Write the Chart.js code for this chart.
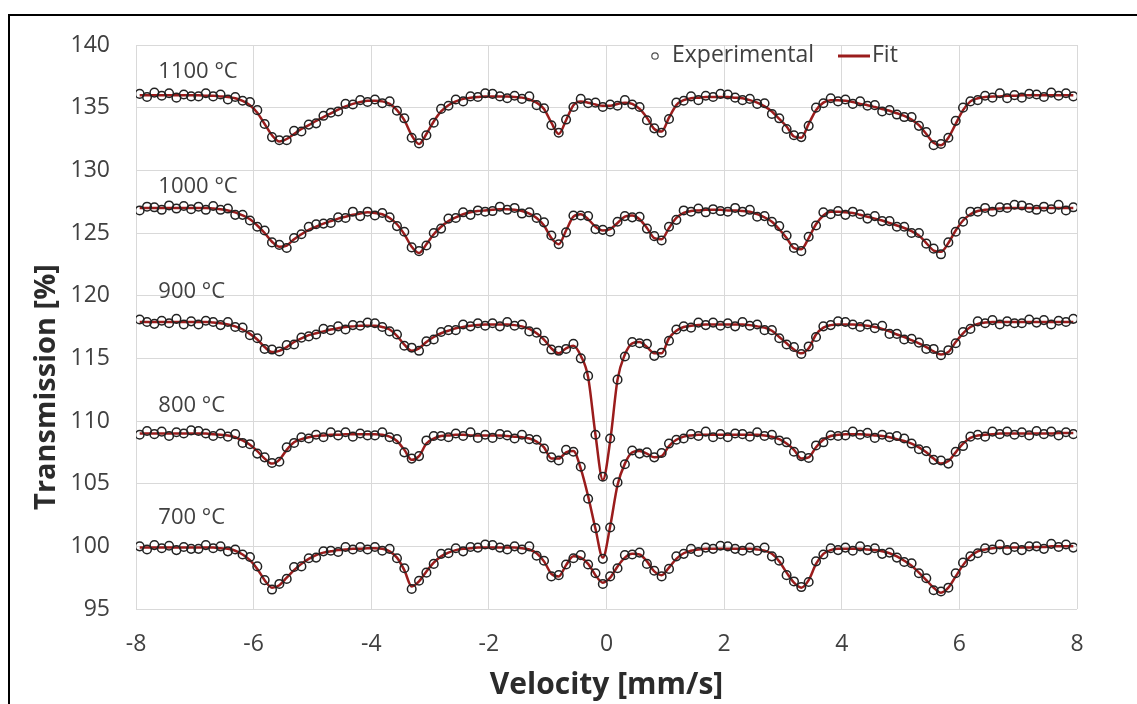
<!DOCTYPE html>
<html>
<head>
<meta charset="utf-8">
<script src="https://cdn.jsdelivr.net/npm/chart.js@4.4.0/dist/chart.umd.min.js"></script>
<style>
  html, body { margin: 0; padding: 0; background: #fff; overflow: hidden; }
  #wrap { position: relative; width: 1137px; height: 704px; overflow: hidden; }
  #frame { position: absolute; left: 8px; top: 14px; width: 1300px; height: 900px;
           border-left: 2px solid #000; border-top: 2px solid #000; }
</style>
</head>
<body>
<div id="wrap">
  <canvas id="chart" width="1137" height="704"></canvas>
  <div id="frame"></div>
</div>
<script>
// velocity channels (mm/s)
var velocity = [
  -7.9375,-7.8125,-7.6875,-7.5625,-7.4375,-7.3125,-7.1875,-7.0625,
  -6.9375,-6.8125,-6.6875,-6.5625,-6.4375,-6.3125,-6.1875,-6.0625,
  -5.9375,-5.8125,-5.6875,-5.5625,-5.4375,-5.3125,-5.1875,-5.0625,
  -4.9375,-4.8125,-4.6875,-4.5625,-4.4375,-4.3125,-4.1875,-4.0625,
  -3.9375,-3.8125,-3.6875,-3.5625,-3.4375,-3.3125,-3.1875,-3.0625,
  -2.9375,-2.8125,-2.6875,-2.5625,-2.4375,-2.3125,-2.1875,-2.0625,
  -1.9375,-1.8125,-1.6875,-1.5625,-1.4375,-1.3125,-1.1875,-1.0625,
  -0.9375,-0.8125,-0.6875,-0.5625,-0.4375,-0.3125,-0.1875,-0.0625,
  0.0625,0.1875,0.3125,0.4375,0.5625,0.6875,0.8125,0.9375,
  1.0625,1.1875,1.3125,1.4375,1.5625,1.6875,1.8125,1.9375,
  2.0625,2.1875,2.3125,2.4375,2.5625,2.6875,2.8125,2.9375,
  3.0625,3.1875,3.3125,3.4375,3.5625,3.6875,3.8125,3.9375,
  4.0625,4.1875,4.3125,4.4375,4.5625,4.6875,4.8125,4.9375,
  5.0625,5.1875,5.3125,5.4375,5.5625,5.6875,5.8125,5.9375,
  6.0625,6.1875,6.3125,6.4375,6.5625,6.6875,6.8125,6.9375,
  7.0625,7.1875,7.3125,7.4375,7.5625,7.6875,7.8125,7.9375
];

var temps = ['1100 °C', '1000 °C', '900 °C', '800 °C', '700 °C'];

// fitted curves
var fit1100 = [
  136.0,136.0,136.0,136.0,136.0,136.0,136.0,136.0,
  136.0,135.95,135.95,135.9,135.85,135.75,135.55,135.2,
  134.6,133.7,132.8,132.3,132.5,132.9,133.3,133.6,
  133.95,134.25,134.55,134.85,135.1,135.3,135.45,135.55,
  135.55,135.5,135.3,134.8,134.0,132.8,132.1,132.9,
  133.9,134.7,135.2,135.5,135.7,135.8,135.85,135.9,
  135.9,135.9,135.9,135.85,135.8,135.65,135.4,134.9,
  133.8,132.9,134.0,135.2,135.5,135.4,135.25,135.15,
  135.15,135.3,135.4,135.3,134.9,134.2,133.3,133.1,
  134.2,135.2,135.6,135.75,135.8,135.85,135.85,135.85,
  135.85,135.8,135.75,135.6,135.4,135.1,134.7,134.1,
  133.5,132.7,132.6,133.7,134.8,135.4,135.6,135.6,
  135.55,135.45,135.3,135.2,135.05,134.9,134.75,134.55,
  134.35,134.05,133.6,132.9,132.2,132.0,132.6,133.7,
  134.8,135.5,135.75,135.85,135.9,135.9,135.95,135.95,
  136.0,136.0,136.0,136.0,136.0,136.0,136.0,136.0
];
var fit1000 = [
  127.0,127.0,127.0,127.0,127.0,127.0,127.0,127.0,
  127.0,127.0,126.95,126.9,126.8,126.65,126.4,126.1,
  125.6,125.0,124.3,123.9,124.0,124.5,124.9,125.25,
  125.5,125.75,125.95,126.15,126.3,126.45,126.55,126.65,
  126.6,126.5,126.2,125.7,124.9,123.9,123.4,124.1,
  124.9,125.5,125.95,126.25,126.5,126.65,126.75,126.8,
  126.85,126.9,126.9,126.85,126.75,126.55,126.2,125.6,
  124.6,124.1,125.2,126.3,126.5,126.1,125.5,125.2,
  125.3,125.8,126.3,126.4,126.1,125.4,124.6,124.5,
  125.4,126.2,126.6,126.75,126.8,126.85,126.85,126.85,
  126.8,126.8,126.75,126.7,126.5,126.25,125.9,125.3,
  124.6,123.8,123.7,124.6,125.7,126.4,126.7,126.7,
  126.65,126.6,126.45,126.3,126.15,126.0,125.8,125.6,
  125.4,125.15,124.8,124.2,123.6,123.5,124.2,125.2,
  126.0,126.5,126.75,126.85,126.9,126.95,127.0,127.0,
  127.0,127.0,127.0,127.0,127.0,127.0,127.0,127.0
];
var fit900 = [
  117.9,117.9,117.9,117.9,117.9,117.9,117.9,117.9,
  117.9,117.9,117.85,117.8,117.7,117.55,117.3,116.95,
  116.5,115.9,115.5,115.6,115.9,116.3,116.6,116.85,
  117.0,117.15,117.3,117.4,117.5,117.55,117.6,117.6,
  117.6,117.5,117.3,116.8,116.1,115.6,115.8,116.3,
  116.7,117.0,117.2,117.4,117.5,117.6,117.65,117.7,
  117.7,117.7,117.7,117.65,117.55,117.35,117.0,116.5,
  115.8,115.4,115.8,116.0,115.2,113.5,108.9,105.3,
  108.4,113.3,115.3,116.2,116.3,115.9,115.4,115.4,
  116.6,117.2,117.5,117.6,117.65,117.7,117.7,117.7,
  117.7,117.7,117.7,117.65,117.55,117.45,117.2,116.7,
  116.2,115.7,115.4,115.8,116.9,117.45,117.65,117.7,
  117.7,117.7,117.65,117.6,117.5,117.35,117.15,116.9,
  116.7,116.45,116.2,115.9,115.55,115.3,115.5,116.3,
  117.0,117.5,117.75,117.85,117.9,117.9,117.9,117.9,
  117.9,117.9,117.9,117.9,117.9,117.9,117.9,117.9
];
var fit800 = [
  109.0,109.0,109.0,109.0,109.0,109.0,109.0,109.0,
  109.0,109.0,108.95,108.9,108.85,108.7,108.45,108.1,
  107.6,107.0,106.6,106.9,107.7,108.3,108.55,108.7,
  108.8,108.85,108.9,108.9,108.95,108.95,108.95,108.95,
  108.95,108.9,108.75,108.4,107.7,106.9,107.2,108.2,
  108.6,108.8,108.85,108.9,108.9,108.85,108.85,108.85,
  108.85,108.85,108.8,108.75,108.7,108.6,108.35,107.9,
  107.0,107.0,107.5,107.6,106.2,104.0,101.4,99.1,
  101.6,104.9,106.6,107.5,107.6,107.4,107.1,107.2,
  108.0,108.5,108.75,108.85,108.9,108.9,108.9,108.9,
  108.9,108.9,108.9,108.9,108.9,108.85,108.75,108.55,
  108.2,107.7,107.0,107.1,107.9,108.5,108.8,108.9,
  108.95,108.95,108.95,108.9,108.85,108.8,108.7,108.55,
  108.4,108.2,107.9,107.5,107.0,106.6,106.8,107.5,
  108.2,108.65,108.85,108.9,108.95,109.0,109.0,109.0,
  109.0,109.0,109.0,109.0,109.0,109.05,109.05,109.05
];
var fit700 = [
  99.9,99.9,99.9,99.9,99.9,99.9,99.9,99.9,
  99.9,99.9,99.9,99.85,99.8,99.65,99.35,98.9,
  98.2,97.3,96.7,96.9,97.5,98.1,98.6,99.0,
  99.3,99.5,99.6,99.7,99.75,99.8,99.8,99.85,
  99.85,99.8,99.6,99.1,98.1,96.8,97.2,98.0,
  98.7,99.2,99.5,99.7,99.8,99.85,99.9,99.9,
  99.9,99.9,99.9,99.9,99.85,99.75,99.45,98.8,
  97.8,97.6,98.5,99.2,99.1,98.6,97.7,97.1,
  97.5,98.4,99.1,99.4,99.35,98.8,98.0,97.7,
  98.3,99.0,99.45,99.65,99.75,99.8,99.8,99.8,
  99.8,99.8,99.8,99.8,99.75,99.65,99.4,98.8,
  97.9,97.1,96.7,97.3,98.6,99.4,99.7,99.8,
  99.8,99.8,99.8,99.75,99.7,99.6,99.45,99.2,
  98.85,98.45,97.9,97.3,96.7,96.3,96.7,97.6,
  98.5,99.2,99.6,99.75,99.85,99.9,99.9,99.9,
  99.9,99.9,99.95,99.95,100.0,100.0,100.0,100.0
];

// measured points
var exp1100 = [
  136.1,135.85,136.2,135.95,136.15,135.8,136.05,135.9,
  135.9,136.15,135.9,136.05,135.65,135.85,135.55,135.45,
  134.8,133.7,132.65,132.4,132.4,133.15,133.1,133.65,
  133.75,134.35,134.6,134.7,135.3,135.25,135.6,135.45,
  135.65,135.35,135.5,134.75,134.15,132.6,132.15,132.8,
  133.8,134.9,135.15,135.65,135.5,135.9,135.85,136.15,
  136.1,135.9,135.75,135.95,135.7,135.9,135.2,134.95,
  133.6,133.0,134.05,135.05,135.7,135.35,135.4,135.05,
  135.25,135.15,135.6,135.25,135.05,134.0,133.35,133.0,
  134.1,135.4,135.55,135.9,135.6,135.95,135.85,136.1,
  136.05,135.8,135.6,135.7,135.3,135.35,134.5,134.15,
  133.3,132.8,132.65,133.55,135.0,135.35,135.75,135.5,
  135.65,135.3,135.5,135.15,135.2,134.7,134.8,134.45,
  134.25,134.25,133.55,133.05,132.0,132.1,132.6,133.95,
  135.0,135.5,135.6,135.95,135.8,136.15,135.75,136.0,
  135.8,136.1,136.05,135.85,136.2,135.95,136.15,135.9
];
var exp1000 = [
  126.8,127.1,127.05,126.85,127.2,126.95,127.15,126.9,
  127.1,126.85,127.15,126.85,126.95,126.45,126.45,126.0,
  125.5,125.2,124.25,124.05,123.8,124.6,124.9,125.5,
  125.7,125.75,125.8,126.25,126.2,126.7,126.35,126.7,
  126.4,126.6,126.25,125.55,125.1,123.85,123.55,124.0,
  125.0,125.35,126.15,126.2,126.65,126.45,126.8,126.7,
  126.75,127.1,126.85,127.0,126.55,126.65,126.2,125.85,
  124.8,124.1,125.05,126.4,126.4,126.35,125.3,125.25,
  125.1,125.9,126.35,126.25,126.3,125.35,124.75,124.4,
  125.5,126.05,126.8,126.7,126.95,126.65,126.9,126.75,
  126.7,127.0,126.7,126.85,126.3,126.35,125.9,125.55,
  124.8,123.8,123.55,124.7,125.6,126.65,126.5,126.75,
  126.45,126.7,126.5,126.15,126.35,125.95,125.95,125.5,
  125.5,125.0,125.0,124.15,123.75,123.3,124.25,125.1,
  125.9,126.7,126.7,127.0,126.7,127.05,127.0,127.25,
  127.2,127.0,126.85,127.1,126.9,127.25,126.8,127.05
];
var exp900 = [
  118.1,117.9,117.75,118.0,117.8,118.15,117.7,117.95,
  117.7,118.0,117.9,117.65,117.9,117.5,117.45,116.85,
  116.6,115.75,115.7,115.55,116.05,116.1,116.65,116.75,
  116.9,117.35,117.25,117.55,117.3,117.65,117.6,117.85,
  117.8,117.5,117.15,116.9,116.0,115.85,115.6,116.35,
  116.5,117.1,117.25,117.25,117.7,117.55,117.8,117.6,
  117.8,117.55,117.9,117.6,117.7,117.15,117.05,116.4,
  115.7,115.6,115.75,116.15,115.0,113.6,108.9,105.55,
  108.6,113.3,115.15,116.3,116.2,116.15,115.2,115.45,
  116.4,117.3,117.55,117.45,117.85,117.65,117.85,117.6,
  117.8,117.55,117.9,117.6,117.7,117.25,117.25,116.6,
  116.1,115.9,115.35,115.95,116.7,117.55,117.65,117.95,
  117.9,117.7,117.5,117.7,117.4,117.6,116.95,116.95,
  116.5,116.55,116.25,115.75,115.75,115.25,115.65,116.2,
  117.1,117.35,117.95,117.8,118.05,117.7,117.95,117.8,
  117.8,118.1,117.85,118.05,117.7,118.0,117.9,118.15
];
var exp800 = [
  108.9,109.2,108.95,109.15,108.8,109.1,109.0,109.25,
  109.2,109.0,108.8,109.0,108.75,108.95,108.25,108.15,
  107.4,107.1,106.65,106.75,107.9,108.25,108.7,108.6,
  108.9,108.7,109.1,108.85,109.1,108.75,109.0,108.85,
  108.85,109.1,108.7,108.55,107.5,107.0,107.2,108.45,
  108.8,108.8,108.7,109.0,108.8,109.1,108.65,108.9,
  108.65,108.95,108.85,108.6,108.9,108.55,108.5,107.8,
  107.1,106.85,107.7,107.55,106.35,103.8,101.45,99.0,
  101.5,105.1,106.55,107.65,107.4,107.5,107.1,107.45,
  108.2,108.5,108.6,108.95,108.8,109.15,108.7,108.95,
  108.7,109.0,108.95,108.75,109.1,108.8,108.9,108.45,
  108.3,107.55,107.2,107.05,108.05,108.3,108.85,108.8,
  108.85,109.15,108.9,109.05,108.65,108.9,108.7,108.8,
  108.6,108.2,107.75,107.6,106.9,106.85,106.6,107.55,
  108.0,108.75,108.9,108.75,109.15,108.95,109.15,108.9,
  109.1,108.85,109.2,108.95,109.15,108.85,109.1,108.95
];
var exp700 = [
  100.0,99.75,100.1,99.85,100.05,99.7,99.95,99.8,
  99.8,100.1,99.85,100.0,99.6,99.75,99.35,99.15,
  98.4,97.3,96.55,97.0,97.4,98.35,98.4,99.05,
  99.1,99.6,99.65,99.55,99.95,99.75,99.95,99.75,
  99.95,99.65,99.8,99.05,98.25,96.6,97.25,97.9,
  98.6,99.4,99.45,99.85,99.6,99.95,99.9,100.15,
  100.1,99.9,99.75,100.0,99.75,100.0,99.25,98.85,
  97.6,97.7,98.55,99.05,99.3,98.55,97.85,97.0,
  97.6,98.25,99.3,99.35,99.5,98.6,98.05,97.6,
  98.2,99.2,99.4,99.8,99.55,99.9,99.8,100.05,
  100.0,99.8,99.65,99.9,99.65,99.9,99.2,98.85,
  97.7,97.2,96.75,97.15,98.8,99.35,99.85,99.7,
  99.9,99.65,100.0,99.7,99.85,99.4,99.5,99.1,
  98.75,98.65,97.85,97.45,96.5,96.4,96.7,97.85,
  98.7,99.2,99.45,99.85,99.75,100.15,99.7,99.95,
  99.7,100.0,100.0,99.8,100.2,99.95,100.15,99.9
];

var xTicks = [-8, -6, -4, -2, 0, 2, 4, 6, 8];
var yTicks = [95, 100, 105, 110, 115, 120, 125, 130, 135, 140];

var fits = [fit1100, fit1000, fit900, fit800, fit700];
var exps = [exp1100, exp1000, exp900, exp800, exp700];

var textColor = '#404040';
var fitColor = '#9a1c1c';
var font = '"Open Sans", "DejaVu Sans", sans-serif';

function pts(arr) {
  return velocity.map(function (v, i) { return { x: v, y: arr[i] }; });
}

var datasets = [];
exps.forEach(function (e, i) {
  datasets.push({
    label: 'Experimental ' + temps[i],
    data: pts(e),
    showLine: false,
    pointStyle: 'circle',
    pointRadius: 4.3,
    pointBorderWidth: 1.5,
    pointBorderColor: '#222222',
    pointBackgroundColor: 'rgba(0,0,0,0)'
  });
});
fits.forEach(function (f, i) {
  datasets.push({
    label: 'Fit ' + temps[i],
    data: pts(f),
    showLine: true,
    borderColor: fitColor,
    borderWidth: 2.5,
    pointRadius: 0,
    cubicInterpolationMode: 'monotone'
  });
});

// labels, y title and legend drawn on top
var labelAnchors = [137.9, 128.7, 120.3, 111.2, 102.25];
var overlay = {
  id: 'overlay',
  afterDraw: function (chart) {
    var ctx = chart.ctx;
    var xs = chart.scales.x, ys = chart.scales.y;
    ctx.save();
    ctx.fillStyle = textColor;
    ctx.textBaseline = 'middle';
    ctx.textAlign = 'left';
    ctx.font = '22px ' + font;
    temps.forEach(function (t, i) {
      ctx.fillText(t, xs.getPixelForValue(-7.62), ys.getPixelForValue(labelAnchors[i]));
    });

    // legend
    ctx.font = '23px ' + font;
    ctx.strokeStyle = '#505050';
    ctx.lineWidth = 1.2;
    ctx.beginPath();
    ctx.arc(655, 56, 3.2, 0, Math.PI * 2);
    ctx.stroke();
    ctx.fillText('Experimental', 672, 55);
    ctx.strokeStyle = fitColor;
    ctx.lineWidth = 3;
    ctx.beginPath();
    ctx.moveTo(838, 56);
    ctx.lineTo(870, 56);
    ctx.stroke();
    ctx.fillText('Fit', 872, 55);

    // y axis title
    ctx.translate(47, 387);
    ctx.rotate(-Math.PI / 2);
    ctx.textAlign = 'center';
    ctx.fillStyle = '#2b2b2b';
    ctx.font = 'bold 29px ' + font;
    ctx.fillText('Transmission [%]', 0, 0);
    ctx.restore();
  }
};

new Chart(document.getElementById('chart').getContext('2d'), {
  type: 'scatter',
  data: { datasets: datasets },
  options: {
    responsive: false,
    animation: false,
    devicePixelRatio: 1,
    layout: { padding: { left: 0, right: 60, top: 45, bottom: 0 } },
    plugins: {
      legend: { display: false },
      tooltip: { enabled: false }
    },
    scales: {
      x: {
        type: 'linear',
        min: -8, max: 8,
        afterBuildTicks: function (s) { s.ticks = xTicks.map(function (v) { return { value: v }; }); },
        afterFit: function (s) { s.height = 95; },
        grid: { color: '#d9d9d9', lineWidth: 1, drawTicks: false },
        border: { display: false },
        ticks: {
          color: textColor, padding: 22,
          font: { family: font, size: 23 },
          callback: function (v) { return String(v); }
        },
        title: {
          display: true, text: 'Velocity [mm/s]', color: '#2b2b2b',
          font: { family: font, size: 30, weight: 'bold' },
          padding: { top: 0, bottom: 1 }
        }
      },
      y: {
        min: 95, max: 140,
        afterBuildTicks: function (s) { s.ticks = yTicks.map(function (v) { return { value: v }; }); },
        afterFit: function (s) { s.width = 136; },
        grid: { color: '#d9d9d9', lineWidth: 1, drawTicks: false },
        border: { display: false },
        ticks: {
          color: textColor, padding: 26,
          font: { family: font, size: 23 },
          callback: function (v) { return String(v); }
        }
      }
    }
  },
  plugins: [overlay]
});
</script>
</body>
</html>
